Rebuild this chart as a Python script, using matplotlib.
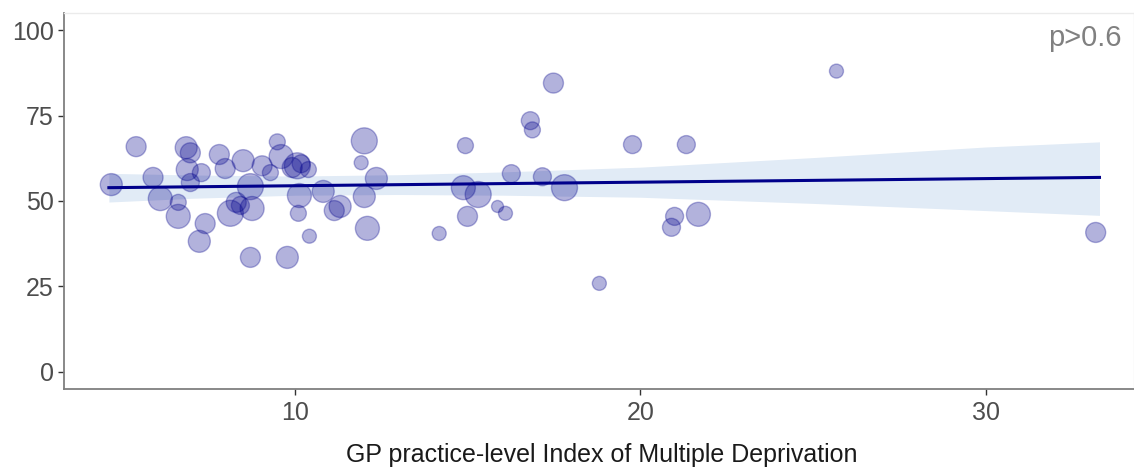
import numpy as np
import matplotlib
matplotlib.use("Agg")
from matplotlib import pyplot as plt

plt.rcParams['font.family'] = ['Liberation Sans', 'DejaVu Sans']

# GP practice-level IMD vs outcome (%), bubble size ~ practice size
imd = [4.67, 5.39, 5.88, 6.09, 6.61, 6.61, 6.84, 6.96, 6.87, 6.96,
       7.22, 7.39, 7.28, 7.80, 7.97, 8.12, 8.29, 8.41, 8.49, 8.75,
       8.70, 8.70, 9.04, 9.28, 9.48, 9.59, 9.77, 9.91, 10.06, 10.17,
       10.12, 10.09, 10.38, 10.41, 10.81, 11.13, 11.30, 11.91, 12.00, 12.00,
       12.09, 12.35, 14.17, 14.93, 14.87, 14.99, 15.30, 15.86, 16.09, 16.26,
       16.81, 16.87, 17.16, 17.48, 17.80, 18.81, 19.77, 20.90, 20.99, 21.33,
       21.68, 25.68, 33.19]
pct = [54.8, 65.9, 56.9, 50.7, 49.6, 45.5, 65.6, 64.1, 59.2, 55.4,
       38.2, 43.4, 58.3, 63.6, 59.5, 46.4, 49.6, 48.7, 61.8, 47.8,
       33.5, 54.2, 60.3, 58.3, 67.3, 63.0, 33.5, 59.8, 60.3, 60.9,
       51.6, 46.4, 59.2, 39.7, 52.8, 47.2, 48.4, 61.2, 67.6, 51.3,
       42.0, 56.6, 40.5, 66.2, 53.9, 45.5, 51.9, 48.4, 46.4, 58.0,
       73.5, 70.8, 57.1, 84.5, 53.9, 25.9, 66.5, 42.3, 45.5, 66.5,
       46.1, 88.0, 40.8]
list_size = [11, 10, 10, 12, 8, 12, 11, 10, 11, 9,
             11, 10, 9, 10, 10, 13, 10, 9, 11, 12,
             10, 13, 10, 8, 8, 12, 11, 10, 13, 9,
             12, 8, 8, 7, 11, 10, 11, 7, 13, 11,
             12, 11, 7, 8, 12, 10, 13, 6, 7, 9,
             9, 8, 9, 10, 13, 7, 9, 9, 9, 9,
             12, 7, 10]

# linear fit and its confidence band
fit_x = [4.6, 33.3]
fit_y = [53.9, 56.9]
band_x = [4.6, 7, 10, 13, 16, 20, 25, 30, 33.3]
band_lo = [49.7, 50.8, 51.7, 51.9, 51.7, 51.1, 49.3, 47.2, 45.8]
band_hi = [58.1, 57.6, 57.3, 57.7, 58.5, 59.9, 62.7, 65.8, 67.3]

fig = plt.figure(figsize=(11.34, 4.70), dpi=100)
ax = fig.add_axes([64 / 1134, 1 - 389 / 470, 1 - 64 / 1134, (389 - 13) / 470])

ax.fill_between(band_x, band_lo, band_hi, color='#E1EBF6', lw=0, zorder=1)
ax.plot(fit_x, fit_y, color='#00008B', lw=2.2, zorder=2)

sizes = (1.44 * np.array(list_size)) ** 2
ax.scatter(imd, pct, s=sizes, facecolor=(0, 0, 0.545, 0.3),
           edgecolor=(0, 0, 0.545, 0.3), linewidth=1.0, zorder=3)

ax.set_xlim(3.3, 34.3)
ax.set_ylim(-5, 105)
ax.set_xticks([10, 20, 30])
ax.set_yticks([0, 25, 50, 75, 100])
ax.tick_params(labelsize=18, colors='#333333', labelcolor='#4D4D4D', length=4, width=1)
ax.tick_params(axis='x', pad=5)

for side in ['left', 'bottom']:
    ax.spines[side].set_color('#7F7F7F')
    ax.spines[side].set_linewidth(1.3)
for side in ['top', 'right']:
    ax.spines[side].set_color('#EBEBEB')
    ax.spines[side].set_linewidth(1.0)

fig.text(602 / 1134, 3 / 470, "GP practice-level Index of Multiple Deprivation",
         ha='center', va='bottom', fontsize=18, color='#1A1A1A')
ax.text(0.988, 0.97, "p>0.6", transform=ax.transAxes, ha='right', va='top',
        fontsize=21, color='#808080')

fig.savefig("out.png", dpi=100)
